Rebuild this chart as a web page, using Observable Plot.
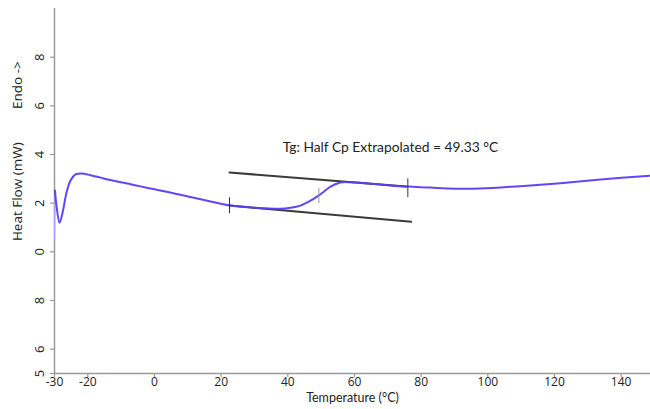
<!DOCTYPE html>
<html><head><meta charset="utf-8">
<script src="https://cdn.jsdelivr.net/npm/d3@7"></script>
<script src="https://cdn.jsdelivr.net/npm/@observablehq/plot@0.6"></script>
<style>body{margin:0;background:#fff} #chart svg{display:block}</style>
</head><body><div id="chart"></div>
<script>
// Main DSC curve
const temperature = [-29.85, -29.4, -28.5, -27.6, -26.4, -25.2, -23.7, -21.9, -19.2, -16.2, -13.2, -7.2, -4.2, 0, 3.3, 10.8, 16.8, 22.8, 30.3, 37.8, 40.8, 43.8, 46.8, 49.2, 50.4, 52.8, 55.8, 58.8, 64.8, 70.8, 76, 82.8, 87.9, 97.8, 109.8, 121.8, 133.8, 148.8];
const heatFlow    = [2.52, 1.9, 1.2, 1.6, 2.43, 2.93, 3.18, 3.22, 3.15, 3.05, 2.95, 2.78, 2.69, 2.57, 2.48, 2.25, 2.07, 1.9, 1.81, 1.77, 1.81, 1.9, 2.1, 2.31, 2.43, 2.68, 2.85, 2.86, 2.8, 2.73, 2.68, 2.64, 2.6, 2.6, 2.7, 2.82, 2.97, 3.13];
// faint initial segment
const startTemp = [-30.0, -29.85];
const startHeat = [0.45, 2.52];
// extrapolated baselines
const upperTemp = [22.5, 75.5];
const upperHeat = [3.26, 2.68];
const lowerTemp = [22.5, 77];
const lowerHeat = [1.9, 1.24];
// marker ticks
const markerTemp = [22.5, 49.3, 76];
const markerLow  = [1.57, 1.98, 2.23];
const markerHigh = [2.22, 2.6, 3.0];
const markerColor = ["#333333", "#999999", "#333333"];
// annotation
const noteText = ["Tg: Half Cp Extrapolated = 49.33 \u00B0C"];
const noteTemp = [70.8];
const noteHeat = [4.29];
// axes
const xDomain = [-30, 148.8];
const yDomain = [-5, 10];
const xTicks = [-30, -20, 0, 20, 40, 60, 80, 100, 120, 140];
const xTickLabels = ["-30", "-20", "0", "20", "40", "60", "80", "100", "120", "140"];
const yTicks = [-5, -4, -2, 0, 2, 4, 6, 8];
const yTickLabels = ["5", "6", "8", "0", "2", "4", "6", "8"];
const xTitle = "Temperature (\u00B0C)";
const yTitle = "Heat Flow (mW)";
const yTitlePos = [2.47];
const endoLabel = "Endo ->";
const endoPos = [6.85];

const curve = temperature.map((t, i) => ({t, h: heatFlow[i]}));
const start = startTemp.map((t, i) => ({t, h: startHeat[i]}));
const upper = upperTemp.map((t, i) => ({t, h: upperHeat[i]}));
const lower = lowerTemp.map((t, i) => ({t, h: lowerHeat[i]}));
const markers = markerTemp.map((t, i) => ({t, lo: markerLow[i], hi: markerHigh[i], c: markerColor[i]}));
const note = noteText.map((s, i) => ({s, t: noteTemp[i], h: noteHeat[i]}));
const xt = xTicks.map((t, i) => ({t, s: xTickLabels[i]}));
const yt = yTicks.map((h, i) => ({h, s: yTickLabels[i]}));

const axisColor = "#9a9a9a";
const font = "Lato, 'Open Sans', sans-serif";

const chart = Plot.plot({
  width: 650,
  height: 409,
  marginLeft: 54,
  marginRight: 0,
  marginTop: 8,
  marginBottom: 36,
  style: {fontFamily: font, fontSize: "12px", background: "#fff"},
  x: {domain: xDomain, axis: null},
  y: {domain: yDomain, axis: null},
  marks: [
    // axis lines
    Plot.ruleX([xDomain[0]], {stroke: axisColor, strokeWidth: 1.5}),
    Plot.ruleY([yDomain[0]], {stroke: axisColor, strokeWidth: 1.5}),
    // x ticks (downward)
    Plot.ruleX(xt, {x: "t", y1: yDomain[0], y2: yDomain[0], insetTop: 0, insetBottom: -4, stroke: axisColor, strokeWidth: 1.2}),
    Plot.text(xt, {x: "t", frameAnchor: "bottom", dy: 12, text: "s", fill: "#222", fontSize: 12, fontFamily: "'Open Sans', sans-serif"}),
    // y ticks (leftward)
    Plot.ruleY(yt, {y: "h", x1: xDomain[0], x2: xDomain[0], insetLeft: -4, insetRight: 0, stroke: axisColor, strokeWidth: 1.2}),
    Plot.text(yt, {y: "h", frameAnchor: "left", dx: -15, text: "s", rotate: -90, textAnchor: "middle", fill: "#222", fontSize: 13, fontFamily: "'Open Sans', sans-serif"}),
    // titles
    Plot.text([xTitle], {frameAnchor: "bottom", dy: 28, text: d => d, fill: "#222", fontSize: 12.5}),
    Plot.text([yTitle], {frameAnchor: "left", y: yTitlePos, dx: -37, rotate: -90, textAnchor: "middle", text: d => d, fill: "#222", fontSize: 13.5, fontFamily: "'Open Sans', sans-serif"}),
    Plot.text([endoLabel], {frameAnchor: "left", y: endoPos, dx: -37, rotate: -90, textAnchor: "middle", text: d => d, fill: "#222", fontSize: 13.5, fontFamily: "'Open Sans', sans-serif"}),
    // data
    Plot.line(start, {x: "t", y: "h", stroke: "#a99cff", strokeWidth: 1.2}),
    Plot.line(upper, {x: "t", y: "h", stroke: "#3a3a3a", strokeWidth: 2}),
    Plot.line(lower, {x: "t", y: "h", stroke: "#3a3a3a", strokeWidth: 2}),
    Plot.line(curve, {x: "t", y: "h", curve: "catmull-rom", stroke: "#5a3cf7", strokeWidth: 2, strokeOpacity: 0.95}),
    Plot.ruleX(markers, {x: "t", y1: "lo", y2: "hi", stroke: "c", strokeWidth: 1}),
    Plot.text(note, {x: "t", y: "h", text: "s", fill: "#222", fontSize: 13.8})
  ]
});
document.getElementById("chart").appendChild(chart);
</script>
</body></html>
